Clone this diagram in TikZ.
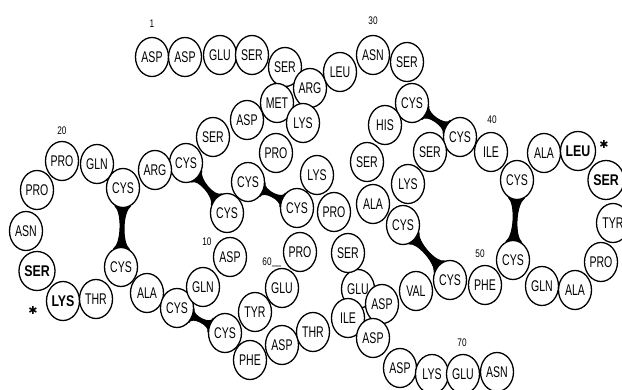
\documentclass[tikz,border=0pt]{standalone}
\usepackage{fontspec}
\usetikzlibrary{shapes.geometric,calc,backgrounds}
\newfontfamily\reslabel[FakeStretch=0.68]{Liberation Sans}
\newfontfamily\reslabelb[FakeStretch=0.8]{Liberation Sans Bold}
\newfontfamily\numlabel[FakeStretch=0.75]{Liberation Sans}
\newfontfamily\symfont{DejaVu Sans}

\tikzset{
  res/.style={ellipse, draw, line width=1.3pt, fill=white, inner sep=0pt,
    minimum width=33pt, minimum height=39pt,
    font=\reslabel\fontsize{15.5}{15.5}\selectfont},
  resb/.style={res, font=\reslabelb\fontsize{15.5}{15.5}\selectfont},
  seqno/.style={inner sep=0pt, font=\numlabel\fontsize{11}{11}\selectfont},
  star/.style={inner sep=0pt, font=\symfont\fontsize{11}{11}\selectfont},
}

% disulfide bridge between two cysteine residues
\newcommand\ssbond[2]{%
  \filldraw[line width=1pt, line join=round]
    let \p1=($(#2)-(#1)$), \n1={atan2(\y1,\x1)} in
    (#1.{\n1+24}) .. controls ($(#1)!0.3!(#2)$) and ($(#1)!0.7!(#2)$) .. (#2.{\n1+156})
    -- (#2.{\n1+204}) .. controls ($(#1)!0.7!(#2)$) and ($(#1)!0.3!(#2)$) .. (#1.{\n1-24})
    -- cycle;}

\begin{document}
\begin{tikzpicture}[x=1pt,y=-1pt]
\useasboundingbox (0,0) rectangle (622,390);

% top strand
\node[res] (asp1) at (152,57) {ASP};
\node[res] (asp2) at (185,57) {ASP};
\node[res] (glu3) at (220,55) {GLU};
\node[res] (ser4) at (252,55) {SER};
\node[res] (ser5) at (285,67) {SER};
\node[res] (arg6) at (310,88) {ARG};
\node[res] (leu29) at (340,72) {LEU};
\node[res] (asn30) at (373,55) {ASN};
\node[res] (ser31) at (407,62) {SER};
\node[res] (cys32) at (412,103) {CYS};
\node[res] (his33) at (385,125) {HIS};
\node[res] (cysA) at (460,137) {CYS};
\node[res] (serA) at (430,152) {SER};
\node[res] (ile40) at (491,152) {ILE};
\node[res] (cysB) at (517,180) {CYS};
\node[res] (alaA) at (544,153) {ALA};
\node[resb] (leuA) at (578,151) {LEU};
\node[resb] (serB) at (606,180) {SER};
\node[res] (tyrA) at (613,223) {TYR};
\node[res] (proA) at (601,262) {PRO};
\node[res] (alaB) at (575,290) {ALA};
\node[res] (glnA) at (542,286) {GLN};
\node[res] (cysC) at (513,260) {CYS};
\node[res] (phe50) at (485,285) {PHE};
\node[res] (cysD) at (450,280) {CYS};
\node[res] (valA) at (416,291) {VAL};
\node[res] (gluA) at (358,289) {GLU};
\node[res] (aspA) at (382,304) {ASP};
\node[res] (serC) at (348,253) {SER};
\node[res] (proB) at (334,212) {PRO};
\node[res] (alaC) at (373,204) {ALA};
\node[res] (cysE) at (403,225) {CYS};
\node[res] (lysA) at (408,184) {LYS};
\node[res] (serD) at (367,162) {SER};
\node[res] (cysF) at (297,208) {CYS};
\node[res] (lysB) at (317,175) {LYS};
\node[res] (proC) at (276,153) {PRO};
\node[res] (cysG) at (248,182) {CYS};
\node[res] (met) at (277,103) {MET};
\node[res] (lysC) at (303,123) {LYS};
\node[res] (aspB) at (247,120) {ASP};
\node[res] (serE) at (213,137) {SER};
\node[res] (cysH) at (186,163) {CYS};
\node[res] (argB) at (155,170) {ARG};
\node[res] (cysI) at (123,188) {CYS};
\node[res] (glnB) at (97,164) {GLN};
\node[res] (pro20) at (62,161) {PRO};
\node[res] (proD) at (37,190) {PRO};
\node[res] (asnA) at (26,231) {ASN};
\node[resb] (serF) at (37,271) {SER};
\node[resb] (lysD) at (63,301) {LYS};
\node[res] (thrA) at (96,299) {THR};
\node[res] (cysJ) at (121,267) {CYS};
\node[res] (alaD) at (147,293) {ALA};
\node[res] (cysK) at (177,308) {CYS};
\node[res] (glnC) at (203,287) {GLN};
\node[res] (asp10) at (230,257) {ASP};
\node[res] (cysL) at (227,213) {CYS};
\node[res] (proE) at (300,252) {PRO};
\node[res] (glu60) at (282,288) {GLU};
\node[res] (tyrB) at (255,312) {TYR};
\node[res] (cysM) at (225,333) {CYS};
\node[res] (pheB) at (250,360) {PHE};
\node[res] (aspC) at (282,345) {ASP};
\node[res] (thrB) at (313,332) {THR};
\node[res] (ileB) at (348,318) {ILE};
\node[res] (aspD) at (373,338) {ASP};
\node[res] (aspE) at (400,368) {ASP};
\node[res] (lysE) at (432,374) {LYS};
\node[res] (glu70) at (463,374) {GLU};
\node[res] (asnB) at (497,372) {ASN};

% disulfide bridges
\begin{pgfonlayer}{background}
\ssbond{cysI}{cysJ}
\ssbond{cysH}{cysL}
\ssbond{cysG}{cysF}
\ssbond{cys32}{cysA}
\ssbond{cysE}{cysD}
\ssbond{cysB}{cysC}
\ssbond{cysK}{cysM}
\end{pgfonlayer}

% sequence numbers
\node[seqno] (n1) at (152,24) {1};
\node[seqno] (n10) at (207,242) {10};
\node[seqno] (n20) at (62,131) {20};
\node[seqno] (n30) at (373,21) {30};
\node[seqno] (n40) at (492,120) {40};
\node[seqno] (n50) at (480,254) {50};
\node[seqno] (n60) at (267,262) {60};
\node[seqno] (n70) at (462,343) {70};
\coordinate (tick60) at (281,266);
\draw[line width=0.8pt] (n60.south east) -- (tick60);

% marked residues
\node[star] (st1) at (604,144) {✱};
\node[star] (st2) at (33,310) {✱};
\end{tikzpicture}
\end{document}
